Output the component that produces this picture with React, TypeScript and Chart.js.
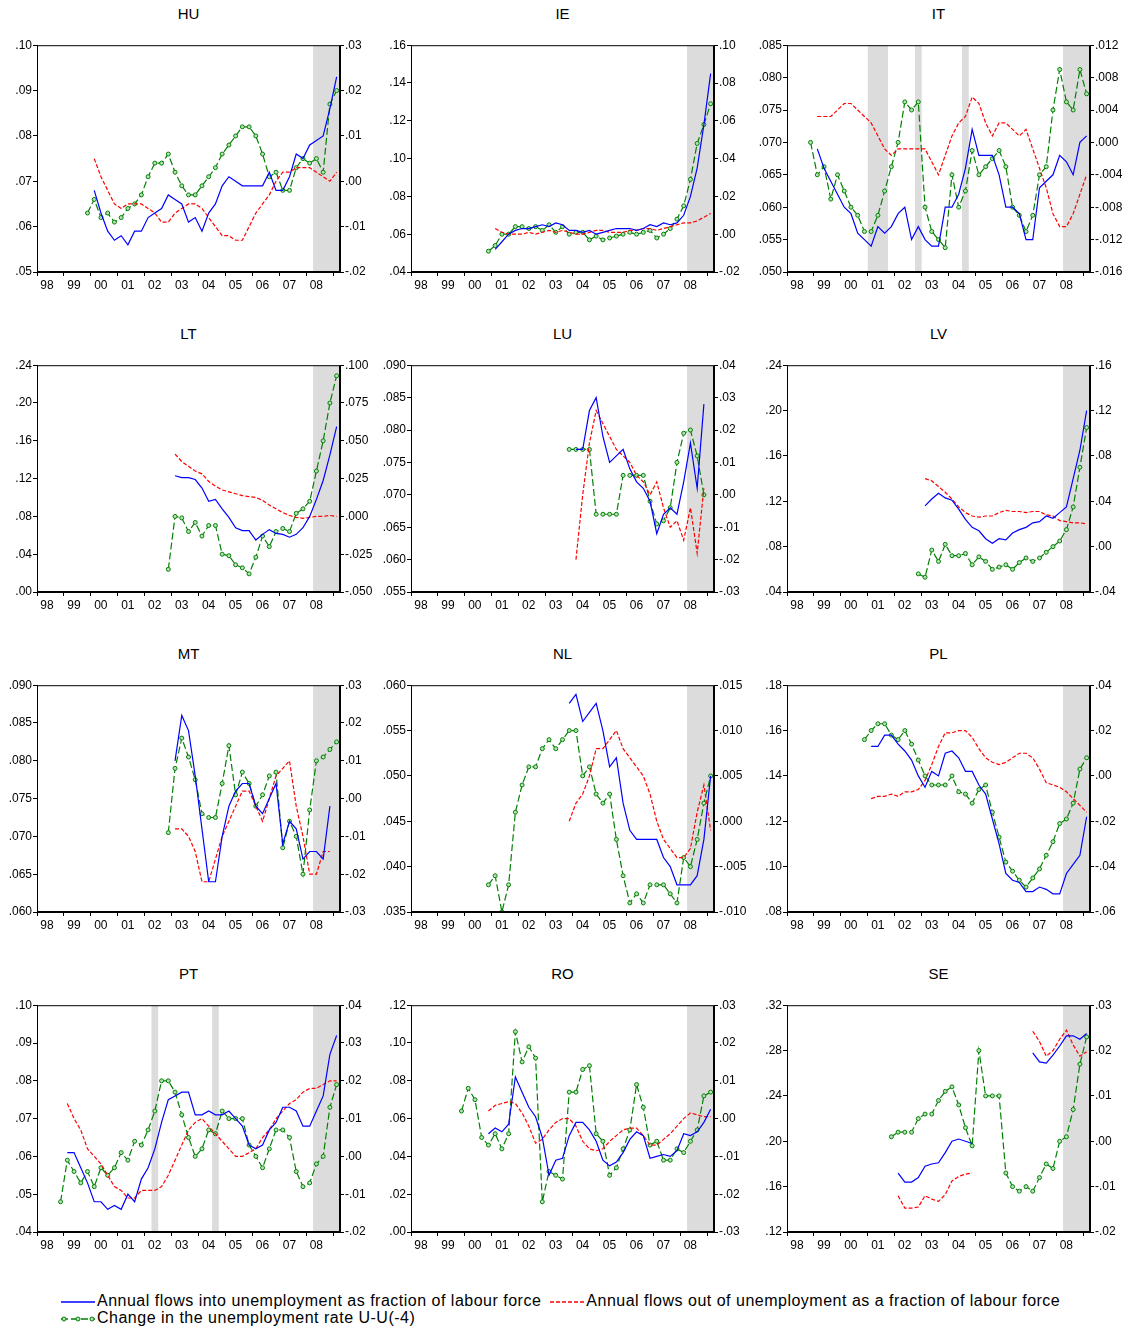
import React, { useRef, useEffect } from 'react';
import { Chart, registerables } from 'chart.js';

Chart.register(...registerables);

// quarter index 0 = 1998Q1, 44 = 2009Q1
const YEARS = [1998, 1999, 2000, 2001, 2002, 2003, 2004, 2005, 2006, 2007, 2008, 2009];

const HU_IN_START = 8;
const HU_IN = [.068, .063, .059, .057, .058, .056, .059, .059, .062, .063, .064, .067, .066, .065, .061, .062, .059, .063, .065, .069, .071, .070, .069, .069, .069, .069, .072, .068, .068, .071, .076, .075, .078, .079, .080, .086, .093];
const HU_OUT_START = 8;
const HU_OUT = [.075, .071, .068, .065, .064, .065, .065, .065, .064, .063, .061, .061, .063, .064, .065, .065, .064, .062, .060, .058, .058, .057, .057, .060, .063, .065, .067, .070, .072, .072, .073, .073, .073, .072, .071, .070, .072];
const HU_CH_START = 7;
const HU_CH = [-.007, -.004, -.008, -.007, -.009, -.008, -.006, -.005, -.003, .001, .004, .004, .006, .002, -.001, -.003, -.003, -.001, .001, .003, .006, .008, .010, .012, .012, .010, .006, .001, .002, -.002, -.002, .003, .005, .004, .005, .002, .017, .020];

const IE_IN_START = 12;
const IE_IN = [.052, .056, .060, .062, .063, .063, .064, .065, .064, .066, .065, .062, .062, .061, .062, .060, .061, .062, .063, .063, .063, .062, .063, .065, .064, .066, .065, .066, .070, .080, .095, .118, .145];
const IE_OUT_START = 12;
const IE_OUT = [.063, .061, .060, .060, .060, .061, .060, .061, .062, .061, .062, .061, .060, .060, .061, .062, .062, .061, .061, .061, .062, .062, .063, .063, .062, .063, .064, .065, .066, .066, .067, .069, .071];
const IE_CH_START = 11;
const IE_CH = [-.009, -.006, .000, .000, .004, .004, .003, .004, .002, .005, .001, .004, .000, .001, .001, -.003, -.001, -.003, -.002, -.001, .000, .001, .000, .001, .002, -.002, .000, .003, .008, .015, .029, .048, .058, .069];

const IT_IN_START = 4;
const IT_IN = [.069, .066, .064, .062, .060, .059, .056, .055, .054, .057, .056, .057, .059, .060, .055, .057, .055, .054, .054, .060, .060, .062, .066, .072, .068, .068, .068, .065, .060, .060, .059, .055, .055, .063, .064, .065, .068, .067, .065, .070, .071];
const IT_OUT_START = 4;
const IT_OUT = [.074, .074, .074, .075, .076, .076, .075, .074, .073, .071, .069, .068, .069, .069, .069, .069, .069, .067, .065, .068, .071, .073, .074, .077, .076, .073, .071, .073, .073, .072, .071, .072, .069, .066, .063, .059, .057, .057, .059, .062, .065];
const IT_CH_START = 3;
const IT_CH = [.000, -.004, -.003, -.007, -.004, -.006, -.008, -.009, -.011, -.011, -.009, -.006, -.003, .000, .005, .004, .005, -.008, -.011, -.012, -.013, -.004, -.008, -.006, -.001, -.004, -.003, -.002, -.001, -.003, -.008, -.009, -.011, -.009, -.004, -.003, .004, .009, .005, .004, .009, .006];

const LT_IN_START = 20;
const LT_IN = [.123, .121, .121, .119, .110, .096, .098, .088, .079, .068, .065, .065, .055, .061, .066, .062, .061, .058, .061, .068, .080, .098, .118, .145, .175];
const LT_OUT_START = 20;
const LT_OUT = [.146, .138, .133, .128, .125, .117, .112, .108, .106, .104, .102, .101, .100, .097, .092, .088, .084, .081, .079, .078, .079, .080, .080, .081, .080];
const LT_CH_START = 19;
const LT_CH = [-.035, .000, -.001, -.010, -.004, -.013, -.006, -.006, -.025, -.026, -.032, -.034, -.038, -.027, -.013, -.020, -.010, -.008, -.010, .002, .005, .010, .030, .050, .075, .093];

const LU_IN_START = 24;
const LU_IN = [.077, .077, .083, .085, .079, .075, .076, .077, .074, .072, .071, .069, .064, .067, .068, .067, .072, .078, .071, .084];
const LU_OUT_START = 24;
const LU_OUT = [.060, .070, .078, .083, .081, .079, .077, .076, .075, .073, .072, .070, .072, .068, .065, .066, .063, .068, .061, .071];
const LU_CH_START = 23;
const LU_CH = [.014, .014, .014, .014, -.006, -.006, -.006, -.006, .006, .006, .006, .006, -.002, -.009, -.008, -.004, .010, .019, .020, .012, .000];

const LV_IN_START = 20;
const LV_IN = [.116, .122, .127, .123, .121, .113, .104, .097, .094, .087, .083, .087, .086, .092, .095, .097, .101, .102, .107, .105, .110, .115, .140, .165, .200];
const LV_OUT_START = 20;
const LV_OUT = [.140, .138, .133, .128, .122, .115, .110, .107, .106, .107, .107, .110, .112, .111, .111, .110, .111, .111, .108, .107, .103, .102, .101, .101, .100];
const LV_CH_START = 19;
const LV_CH = [-.024, -.027, -.003, -.013, .002, -.008, -.008, -.006, -.016, -.009, -.013, -.020, -.018, -.016, -.020, -.014, -.010, -.013, -.010, -.005, .000, .005, .015, .035, .070, .105];

const MT_IN_START = 20;
const MT_IN = [.080, .086, .084, .078, .071, .064, .064, .070, .074, .076, .077, .077, .074, .073, .075, .077, .069, .072, .071, .067, .068, .068, .067, .074];
const MT_OUT_START = 20;
const MT_OUT = [.071, .071, .070, .068, .064, .064, .067, .070, .072, .074, .076, .076, .074, .072, .075, .078, .079, .080, .074, .070, .065, .065, .068, .068];
const MT_CH_START = 19;
const MT_CH = [-.009, .008, .016, .011, .005, -.004, -.005, -.005, .004, .014, .001, .007, .004, -.002, .001, .006, .007, -.013, -.006, -.010, -.020, -.003, .010, .011, .013, .015];

const NL_IN_START = 23;
const NL_IN = [.058, .059, .056, .057, .058, .055, .051, .052, .047, .044, .043, .043, .043, .043, .041, .040, .038, .038, .038, .039, .043, .050];
const NL_OUT_START = 23;
const NL_OUT = [.045, .047, .048, .050, .053, .053, .054, .055, .053, .052, .051, .050, .048, .045, .043, .042, .041, .041, .042, .046, .049, .044];
const NL_CH_START = 11;
const NL_CH = [-.007, -.006, -.010, -.007, .001, .004, .006, .006, .008, .009, .008, .009, .010, .010, .005, .006, .003, .002, .003, -.002, -.006, -.009, -.008, -.009, -.007, -.007, -.007, -.008, -.009, -.004, -.005, -.002, .002, .005];

const PL_IN_START = 12;
const PL_IN = [.153, .153, .158, .158, .154, .151, .147, .140, .135, .142, .140, .150, .151, .148, .142, .142, .136, .132, .121, .110, .097, .094, .093, .089, .089, .091, .090, .088, .088, .097, .101, .105, .122];
const PL_OUT_START = 12;
const PL_OUT = [.130, .131, .131, .132, .131, .133, .133, .134, .138, .145, .153, .159, .159, .160, .160, .157, .152, .148, .146, .145, .146, .148, .150, .150, .148, .143, .137, .136, .135, .133, .130, .127, .124];
const PL_CH_START = 11;
const PL_CH = [.016, .020, .023, .023, .018, .016, .020, .014, .007, .000, -.004, -.004, -.004, .000, -.007, -.008, -.012, -.006, -.004, -.016, -.027, -.038, -.042, -.046, -.049, -.045, -.041, -.035, -.029, -.021, -.019, -.012, .003, .008];

const PT_IN_START = 4;
const PT_IN = [.061, .061, .057, .053, .048, .048, .046, .047, .046, .050, .048, .054, .057, .062, .069, .075, .076, .077, .077, .071, .071, .072, .071, .071, .072, .070, .068, .063, .062, .063, .067, .069, .073, .073, .072, .068, .068, .072, .076, .087, .092];
const PT_OUT_START = 4;
const PT_OUT = [.074, .070, .067, .062, .060, .058, .055, .052, .051, .049, .049, .051, .051, .051, .052, .055, .059, .063, .067, .069, .070, .068, .066, .064, .062, .060, .060, .061, .062, .065, .067, .070, .072, .074, .075, .077, .078, .078, .079, .080, .080];
const PT_CH_START = 3;
const PT_CH = [-.012, -.001, -.004, -.007, -.004, -.008, -.003, -.005, -.003, .001, -.001, .004, .003, .007, .012, .020, .020, .017, .011, .005, .000, .002, .007, .006, .012, .010, .010, .010, .003, .000, -.003, .002, .007, .007, .005, -.004, -.008, -.007, -.002, .000, .013, .019];

const RO_IN_START = 11;
const RO_IN = [.052, .055, .053, .057, .082, .074, .066, .061, .050, .030, .038, .039, .051, .058, .058, .054, .048, .038, .035, .037, .042, .049, .053, .051, .039, .040, .041, .040, .043, .052, .051, .053, .058, .065];
const RO_OUT_START = 11;
const RO_OUT = [.064, .067, .068, .069, .068, .063, .056, .047, .049, .054, .058, .060, .060, .056, .048, .044, .043, .044, .048, .051, .054, .055, .055, .051, .046, .046, .049, .052, .056, .060, .063, .062, .061, .061];
const RO_CH_START = 7;
const RO_CH = [.002, .008, .005, -.005, -.007, -.004, -.008, -.004, .023, .015, .019, .016, -.022, -.014, -.015, -.016, .007, .007, .013, .014, -.004, -.006, -.015, -.013, -.008, -.003, .009, .003, -.007, -.006, -.011, -.011, -.008, -.009, -.006, -.003, .006, .007];

const SE_IN_START = 16;
const SE_IN = [.172, .164, .164, .168, .178, .180, .181, .190, .200, .202, .200, .198, null, null, null, null, null, null, null, null, .278, .270, .269, .276, .284, .293, .293, .290, .295];
const SE_OUT_START = 16;
const SE_OUT = [.152, .141, .141, .142, .152, .149, .147, .153, .165, .169, .171, .172, null, null, null, null, null, null, null, null, .297, .288, .275, .280, .290, .298, .285, .275, .279];
const SE_CH_START = 15;
const SE_CH = [.001, .002, .002, .002, .005, .006, .006, .009, .011, .012, .008, .003, -.001, .020, .010, .010, .010, -.007, -.010, -.011, -.010, -.011, -.008, -.005, -.006, .000, .001, .007, .017, .023];

interface Panel {
    title: string;
    col: number;
    row: number;
    inStart: number; inflow: (number | null)[];
    outStart: number; outflow: (number | null)[];
    chStart: number; change: (number | null)[];
    left: [number, number, number, number]; // min, max, step, decimals
    right: [number, number, number, number];
    shades: [number, number][];
}

const END_SHADE: [number, number] = [2008.25, 2009.25];

const PANELS: Panel[] = [
    { title: 'HU', col: 0, row: 0, inStart: HU_IN_START, inflow: HU_IN, outStart: HU_OUT_START, outflow: HU_OUT, chStart: HU_CH_START, change: HU_CH, left: [.05, .10, .01, 2], right: [-.02, .03, .01, 2], shades: [END_SHADE] },
    { title: 'IE', col: 1, row: 0, inStart: IE_IN_START, inflow: IE_IN, outStart: IE_OUT_START, outflow: IE_OUT, chStart: IE_CH_START, change: IE_CH, left: [.04, .16, .02, 2], right: [-.02, .10, .02, 2], shades: [END_SHADE] },
    { title: 'IT', col: 2, row: 0, inStart: IT_IN_START, inflow: IT_IN, outStart: IT_OUT_START, outflow: IT_OUT, chStart: IT_CH_START, change: IT_CH, left: [.05, .085, .005, 3], right: [-.016, .012, .004, 3], shades: [[2001, 2001.75], [2002.75, 2003], [2004.5, 2004.75], END_SHADE] },
    { title: 'LT', col: 0, row: 1, inStart: LT_IN_START, inflow: LT_IN, outStart: LT_OUT_START, outflow: LT_OUT, chStart: LT_CH_START, change: LT_CH, left: [0, .24, .04, 2], right: [-.05, .10, .025, 3], shades: [END_SHADE] },
    { title: 'LU', col: 1, row: 1, inStart: LU_IN_START, inflow: LU_IN, outStart: LU_OUT_START, outflow: LU_OUT, chStart: LU_CH_START, change: LU_CH, left: [.055, .09, .005, 3], right: [-.03, .04, .01, 2], shades: [END_SHADE] },
    { title: 'LV', col: 2, row: 1, inStart: LV_IN_START, inflow: LV_IN, outStart: LV_OUT_START, outflow: LV_OUT, chStart: LV_CH_START, change: LV_CH, left: [.04, .24, .04, 2], right: [-.04, .16, .04, 2], shades: [END_SHADE] },
    { title: 'MT', col: 0, row: 2, inStart: MT_IN_START, inflow: MT_IN, outStart: MT_OUT_START, outflow: MT_OUT, chStart: MT_CH_START, change: MT_CH, left: [.06, .09, .005, 3], right: [-.03, .03, .01, 2], shades: [END_SHADE] },
    { title: 'NL', col: 1, row: 2, inStart: NL_IN_START, inflow: NL_IN, outStart: NL_OUT_START, outflow: NL_OUT, chStart: NL_CH_START, change: NL_CH, left: [.035, .06, .005, 3], right: [-.01, .015, .005, 3], shades: [END_SHADE] },
    { title: 'PL', col: 2, row: 2, inStart: PL_IN_START, inflow: PL_IN, outStart: PL_OUT_START, outflow: PL_OUT, chStart: PL_CH_START, change: PL_CH, left: [.08, .18, .02, 2], right: [-.06, .04, .02, 2], shades: [END_SHADE] },
    { title: 'PT', col: 0, row: 3, inStart: PT_IN_START, inflow: PT_IN, outStart: PT_OUT_START, outflow: PT_OUT, chStart: PT_CH_START, change: PT_CH, left: [.04, .10, .01, 2], right: [-.02, .04, .01, 2], shades: [[2002.25, 2002.5], [2004.5, 2004.75], END_SHADE] },
    { title: 'RO', col: 1, row: 3, inStart: RO_IN_START, inflow: RO_IN, outStart: RO_OUT_START, outflow: RO_OUT, chStart: RO_CH_START, change: RO_CH, left: [0, .12, .02, 2], right: [-.03, .03, .01, 2], shades: [END_SHADE] },
    { title: 'SE', col: 2, row: 3, inStart: SE_IN_START, inflow: SE_IN, outStart: SE_OUT_START, outflow: SE_OUT, chStart: SE_CH_START, change: SE_CH, left: [.12, .32, .04, 2], right: [-.02, .03, .01, 2], shades: [END_SHADE] },
];

const PLOT_LEFT = [37, 411, 787];
const PLOT_TOP = [45, 365, 685, 1005];
const PLOT_W = 303;
const PLOT_H = 227;
const AXIS_W = 37;
const PAD_TOP = 8;
const X_H = 26;
const FONT = '"Liberation Sans", Arial, sans-serif';

const toPoints = (start: number, values: (number | null)[]) =>
    values.map((v, k) => ({ x: 1998 + (start + k + 0.5) / 4, y: v }));

const fmt = (v: number, d: number) => {
    if (Math.abs(v) < 1e-9) v = 0;
    return v.toFixed(d).replace('0.', '.');
};

const framePlugin = {
    id: 'frameShade',
    beforeDatasetsDraw(chart: any) {
        const { ctx, chartArea, scales } = chart;
        const shades: [number, number][] = chart.options.plugins.frameShade.shades;
        ctx.save();
        ctx.fillStyle = '#dcdcdc';
        shades.forEach(([a, b]) => {
            const x1 = scales.x.getPixelForValue(a);
            const x2 = scales.x.getPixelForValue(b);
            ctx.fillRect(x1, chartArea.top, x2 - x1, chartArea.bottom - chartArea.top);
        });
        ctx.restore();
    },
    afterDraw(chart: any) {
        const { ctx, chartArea } = chart;
        ctx.save();
        ctx.strokeStyle = '#000';
        ctx.lineWidth = 1;
        ctx.strokeRect(chartArea.left + 0.5, chartArea.top + 0.5, chartArea.width - 1, chartArea.height - 1);
        ctx.restore();
    },
};

const yAxis = (cfg: [number, number, number, number], position: 'left' | 'right') => ({
    type: 'linear' as const,
    position,
    min: cfg[0],
    max: cfg[1],
    afterFit: (s: any) => { s.width = AXIS_W; },
    border: { display: true, color: '#000' },
    grid: { drawOnChartArea: false, color: '#000', tickLength: 4 },
    ticks: {
        stepSize: cfg[2],
        padding: 1,
        color: '#000',
        font: { family: FONT, size: 12 },
        callback: (v: any) => fmt(Number(v), cfg[3]),
    },
});

const PanelChart: React.FC<{ p: Panel }> = ({ p }) => {
    const ref = useRef<HTMLCanvasElement>(null);

    useEffect(() => {
        const ctx = ref.current?.getContext('2d');
        if (!ctx) return;
        const chart = new Chart(ctx, {
            type: 'line',
            data: {
                datasets: [
                    {
                        label: 'in',
                        data: toPoints(p.inStart, p.inflow),
                        borderColor: '#0000ff',
                        borderWidth: 1.2,
                        pointRadius: 0,
                        yAxisID: 'y',
                        spanGaps: false,
                    },
                    {
                        label: 'out',
                        data: toPoints(p.outStart, p.outflow),
                        borderColor: '#ff0000',
                        borderWidth: 1.2,
                        borderDash: [4, 2],
                        pointRadius: 0,
                        yAxisID: 'y',
                        spanGaps: false,
                    },
                    {
                        label: 'change',
                        data: toPoints(p.chStart, p.change),
                        borderColor: '#008000',
                        borderWidth: 1.2,
                        borderDash: [7, 3],
                        pointRadius: 2,
                        pointBorderWidth: 1,
                        pointBorderColor: '#008000',
                        pointBackgroundColor: '#b8e0b8',
                        yAxisID: 'y1',
                    },
                ],
            },
            options: {
                animation: false,
                responsive: false,
                layout: { padding: { top: PAD_TOP, left: 0, right: 0, bottom: 0 } },
                plugins: {
                    legend: { display: false },
                    tooltip: { enabled: false },
                    frameShade: { shades: p.shades },
                } as any,
                scales: {
                    x: {
                        type: 'linear',
                        min: 1998,
                        max: 2009.25,
                        afterFit: (s: any) => { s.height = X_H; },
                        afterBuildTicks: (s: any) => { s.ticks = YEARS.map(v => ({ value: v })); },
                        border: { display: true, color: '#000' },
                        grid: { drawOnChartArea: false, color: '#000', tickLength: 4 },
                        ticks: {
                            autoSkip: false,
                            maxRotation: 0,
                            labelOffset: 10,
                            padding: 2,
                            color: '#000',
                            font: { family: FONT, size: 12 },
                            callback: (v: any) => (Number(v) < 2009 ? String(Number(v) % 100).padStart(2, '0') : ''),
                        },
                    },
                    y: yAxis(p.left, 'left'),
                    y1: yAxis(p.right, 'right'),
                },
            },
            plugins: [framePlugin],
        });
        return () => chart.destroy();
    }, [p]);

    const left = PLOT_LEFT[p.col] - AXIS_W;
    const top = PLOT_TOP[p.row] - PAD_TOP;
    const w = PLOT_W + 2 * AXIS_W;
    const h = PLOT_H + PAD_TOP + X_H;
    return (
        <>
            <div style={{ position: 'absolute', left: PLOT_LEFT[p.col], top: PLOT_TOP[p.row] - 40, width: PLOT_W, textAlign: 'center', font: `15px ${FONT}` }}>
                {p.title}
            </div>
            <canvas ref={ref} width={w} height={h} style={{ position: 'absolute', left, top, width: w, height: h }} />
        </>
    );
};

const LegendLine: React.FC<{ color: string; dash?: string; marker?: boolean }> = ({ color, dash, marker }) => (
    <svg width={36} height={10} style={{ verticalAlign: 'middle', marginRight: 1 }}>
        <line x1={1} y1={5} x2={35} y2={5} stroke={color} strokeWidth={1.3} strokeDasharray={dash} />
        {marker && [4, 18, 32].map(cx => <circle key={cx} cx={cx} cy={5} r={2} fill="#b8e0b8" stroke={color} strokeWidth={1} />)}
    </svg>
);

const App: React.FC = () => (
    <div style={{ position: 'absolute', left: 0, top: 0, width: 1137, height: 1331, background: '#fff', fontFamily: FONT }}>
        {PANELS.map(p => <PanelChart key={p.title} p={p} />)}
        <div style={{ position: 'absolute', left: 60, top: 1292, font: `16px ${FONT}`, letterSpacing: '0.5px', whiteSpace: 'nowrap', lineHeight: '17px' }}>
            <div>
                <LegendLine color="#0000ff" />
                <span>Annual flows into unemployment as fraction of labour force</span>
                <span style={{ display: 'inline-block', width: 8 }} />
                <LegendLine color="#ff0000" dash="4 2" />
                <span>Annual flows out of unemployment as a fraction of labour force</span>
            </div>
            <div>
                <LegendLine color="#008000" dash="7 3" marker />
                <span>Change in the unemployment rate U-U(-4)</span>
            </div>
        </div>
    </div>
);

export default App;
